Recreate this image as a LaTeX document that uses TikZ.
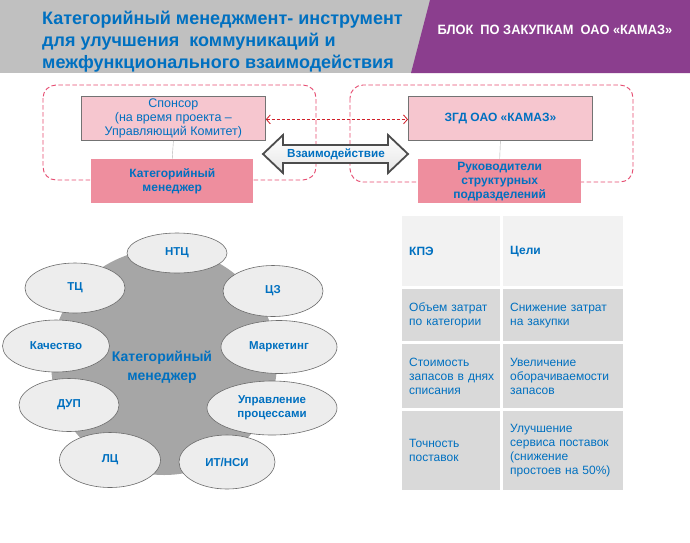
\documentclass[tikz,border=0pt]{standalone}
\usepackage{fontspec}
\setmainfont{Liberation Sans}
\newfontfamily\narrowfont[FakeStretch=0.95]{Liberation Sans}
\usetikzlibrary{shapes.geometric,arrows.meta}
\definecolor{tblue}{HTML}{0070C0}
\definecolor{hdrgray}{HTML}{C0C0C0}
\definecolor{hdrpurple}{HTML}{8B3E8E}
\definecolor{pinkl}{HTML}{F6C6CF}
\definecolor{pinkd}{HTML}{EE8E9E}
\definecolor{dashred}{HTML}{E64A70}
\definecolor{arrred}{HTML}{D0202A}
\definecolor{ellfill}{HTML}{EDEDED}
\definecolor{blobgray}{HTML}{A6A6A6}
\definecolor{cellhd}{HTML}{F2F2F2}
\definecolor{cellbd}{HTML}{D9D9D9}
\tikzset{
  lightbox/.style={draw=gray!90!black, line width=0.8pt, fill=pinkl, text=tblue, align=center, inner sep=0, anchor=north west, font=\fontsize{12.5}{14}\selectfont},
  darkbox/.style={fill=pinkd, text=tblue, align=center, inner sep=0, anchor=north west, font=\bfseries\fontsize{12}{14}\selectfont},
  groupbox/.style={draw=dashred, dash pattern=on 4.5pt off 2.5pt, rounded corners=13pt, line width=0.9pt},
  ell/.style={ellipse, draw=gray!85!black, line width=0.6pt, fill=ellfill, text=tblue, inner sep=0, font=\bfseries\fontsize{11.5}{14}\selectfont, align=center},
  cell/.style={anchor=north west, inner xsep=7pt, inner ysep=0, text=tblue, align=left, font=\fontsize{12}{14}\selectfont},
}
\begin{document}
\begin{tikzpicture}[x=1pt,y=-1pt]
\useasboundingbox (0,0) rectangle (690,542);
\fill[white] (0,0) rectangle (690,542);
% header
\fill[hdrgray] (0,0) rectangle (432,73);
\fill[hdrpurple] (430,0) -- (690,0) -- (690,73) -- (411,73) -- cycle;
\node[anchor=base west, align=left, inner sep=0, text=tblue, font=\bfseries\fontsize{18}{22}\selectfont] (title) at (42,68)
  {Категорийный менеджмент- инструмент\\для улучшения~ коммуникаций и\\межфункционального взаимодействия};
\node[text=white, inner sep=0, font=\narrowfont\bfseries\fontsize{13.5}{15}\selectfont] (block) at (555,30)
  {БЛОК~ ПО ЗАКУПКАМ~ ОАО «КАМАЗ»};
% group boxes
\draw[groupbox] (43,85) rectangle (316,180);
\draw[groupbox] (350,85) rectangle (633,182);
% boxes
\node[lightbox, minimum width=184, minimum height=44] (sponsor) at (81,96)
  {Спонсор\\(на время проекта –\\Управляющий Комитет)};
\node[darkbox, minimum width=162, minimum height=44] (catmgr) at (91,159)
  {Категорийный\\менеджер};
\node[lightbox, minimum width=184, minimum height=44, font=\bfseries\fontsize{12}{14}\selectfont] (zgd) at (408,96)
  {ЗГД ОАО «КАМАЗ»};
\node[darkbox, minimum width=163, minimum height=44] (heads) at (418,159)
  {Руководители\\структурных\\подразделений};
\draw[gray!60] (sponsor.south) -- (catmgr.north);
\draw[gray!60] (zgd.south) -- (heads.north);
\draw[arrred, dash pattern=on 3pt off 2pt, line width=0.8pt, {Straight Barb[length=4pt,width=9pt]}-{Straight Barb[length=4pt,width=9pt]}] ([yshift=-1pt]sponsor.east) -- ([yshift=-1pt]zgd.west);
% interaction arrow
\draw[draw=gray!60!black, line width=1.8pt, line join=miter, top color=white, bottom color=gray!20]
  (263,154) -- (283,135) -- (283,145) -- (388,145) -- (388,135) -- (408,154) -- (388,173) -- (388,163) -- (283,163) -- (283,173) -- cycle;
\node[text=tblue, inner sep=0, font=\bfseries\fontsize{11.7}{13}\selectfont] (inter) at (336,154) {Взаимодействие};
% blob and ellipses
\fill[blobgray] (164,362) circle (113);
\node[text=tblue, align=center, inner sep=0, font=\bfseries\fontsize{14}{19}\selectfont] (cm) at (162,367) {Категорийный\\менеджер};
\node[ell, minimum width=100, minimum height=40] (ntc) at (177,253) {НТЦ};
\node[ell, minimum width=100, minimum height=51] (cz) at (273,291) {ЦЗ};
\node[ell, minimum width=100, minimum height=50] (tc) at (75,288) {ТЦ};
\node[ell, minimum width=107, minimum height=52] (qual) at (56,346) {Качество};
\node[ell, minimum width=116, minimum height=53] (mkt) at (279,347) {Маркетинг};
\node[ell, minimum width=100, minimum height=53] (dup) at (69,405) {ДУП};
\node[ell, minimum width=130, minimum height=54] (proc) at (272,408) {Управление\\процессами};
\node[ell, minimum width=101, minimum height=55] (lc) at (110,460) {ЛЦ};
\node[ell, minimum width=96, minimum height=54] (it) at (227,462) {ИТ/НСИ};
% table
\node[cell, fill=cellhd, minimum width=98, minimum height=70, text width=84, font=\bfseries\fontsize{12}{14}\selectfont] (h1) at (402,216) {КПЭ};
\node[cell, fill=cellhd, minimum width=120, minimum height=70, text width=106, font=\bfseries\fontsize{12}{14}\selectfont] (h2) at (503,216) {Цели};
\node[cell, fill=cellbd, minimum width=98, minimum height=52, text width=84] (a1) at (402,289) {\mbox{Объем затрат}\\\mbox{по категории}};
\node[cell, fill=cellbd, minimum width=120, minimum height=52, text width=106] (b1) at (503,289) {\mbox{Снижение затрат}\\на закупки};
\node[cell, fill=cellbd, minimum width=98, minimum height=64, text width=84] (a2) at (402,344) {Стоимость\\\mbox{запасов{\fontdimen2\font=2.2pt\ }в{\fontdimen2\font=2.2pt\ }днях}\\списания};
\node[cell, fill=cellbd, minimum width=120, minimum height=64, text width=106] (b2) at (503,344) {Увеличение\\\mbox{оборачиваемости}\\запасов};
\node[cell, fill=cellbd, minimum width=98, minimum height=79, text width=84] (a3) at (402,411) {Точность\\поставок};
\node[cell, fill=cellbd, minimum width=120, minimum height=79, text width=106] (b3) at (503,411) {Улучшение\\\mbox{сервиса поставок}\\(снижение\\\mbox{простоев на 50\%)}};
\end{tikzpicture}
\end{document}
